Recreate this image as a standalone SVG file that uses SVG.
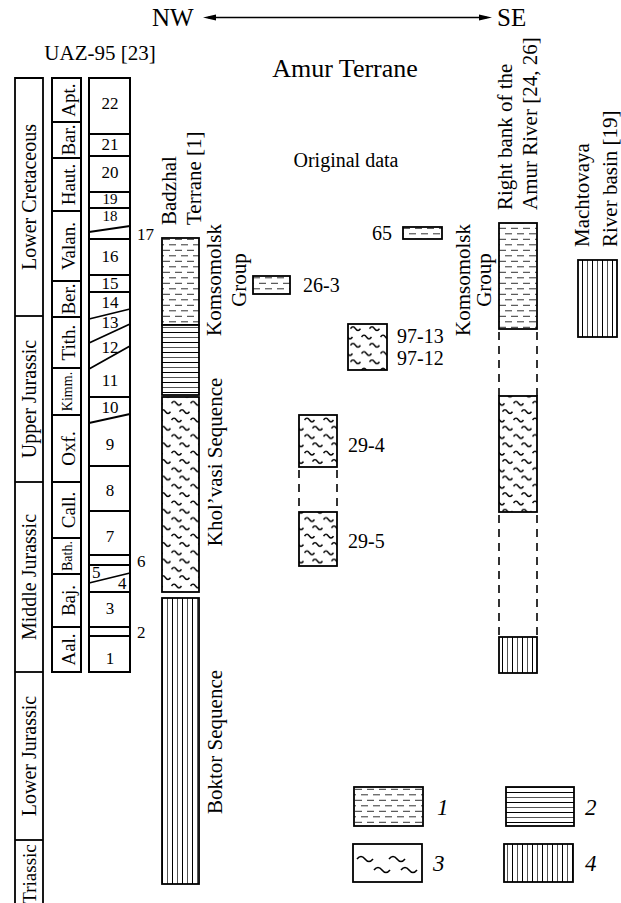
<svg xmlns="http://www.w3.org/2000/svg" width="621" height="903" viewBox="0 0 621 903">
<style>
text{font-family:"Liberation Serif","Times New Roman",serif;fill:#000}
.t21{font-size:21px}
.t20{font-size:20px}
.t19{font-size:19px}
.t14{font-size:14px}
.n{font-size:17px;text-anchor:middle}
.ns{font-size:15px;text-anchor:middle}
.n2{font-size:17px}
.box{fill:none;stroke:#000;stroke-width:2}
.bx{stroke:#000;stroke-width:1.8}
.ln{stroke:#000;stroke-width:1.8;fill:none}
.dash{stroke:#000;stroke-width:1.6;stroke-dasharray:8,6;fill:none}
.leg{font-size:23px;font-style:italic}
.wv{fill:none;stroke:#000;stroke-width:1.6}
</style>
<defs>
<pattern id="p1" patternUnits="userSpaceOnUse" width="12" height="11">
<rect width="12" height="11" fill="#fff"/>
<line x1="1" y1="2.8" x2="8" y2="2.8" stroke="#333" stroke-width="1"/>
<line x1="7" y1="8.3" x2="12" y2="8.3" stroke="#333" stroke-width="1"/>
<line x1="0" y1="8.3" x2="2" y2="8.3" stroke="#333" stroke-width="1"/>
</pattern>
<pattern id="p2" patternUnits="userSpaceOnUse" width="10" height="10">
<rect width="10" height="10" fill="#fff"/>
<line x1="0" y1="2.5" x2="10" y2="2.5" stroke="#000" stroke-width="1"/>
<line x1="0" y1="7.5" x2="10" y2="7.5" stroke="#555" stroke-width="1"/>
</pattern>
<pattern id="p3" patternUnits="userSpaceOnUse" width="19" height="16.6">
<rect width="19" height="16.6" fill="#fff"/>
<path d="M0.5,5 q2.5,-3.6 5,0 t5,0" fill="none" stroke="#000" stroke-width="1.6"/>
<path d="M8.5,13.3 q2.5,-3.6 5,0 t5,0" fill="none" stroke="#000" stroke-width="1.6"/>
</pattern>
<pattern id="p4" patternUnits="userSpaceOnUse" width="10" height="10">
<rect width="10" height="10" fill="#fff"/>
<line x1="2.5" y1="0" x2="2.5" y2="10" stroke="#000" stroke-width="1"/>
<line x1="7.5" y1="0" x2="7.5" y2="10" stroke="#555" stroke-width="1"/>
</pattern>
</defs>
<rect width="621" height="903" fill="#fff"/>

<g id="header">
<text x="152" y="26" style="font-size:25px">NW</text>
<text x="497" y="26" style="font-size:25px">SE</text>
<text x="345" y="77" text-anchor="middle" style="font-size:26px">Amur Terrane</text>
<text x="100" y="60" text-anchor="middle" class="t21">UAZ-95 [23]</text>
<text x="346" y="167" text-anchor="middle" class="t20">Original data</text>
</g>

<g id="connectors">
<line x1="208" y1="17.5" x2="487" y2="17.5" stroke="#000" stroke-width="1.6"/>
<polygon points="203,17.5 216,14.5 216,20.5" fill="#000"/>
<polygon points="492,17.5 479,14.5 479,20.5" fill="#000"/>
</g>

<g id="col-systems">
<path class="ln" d="M15,920 V78 H43 V920"/>
<line class="ln" x1="15" y1="316" x2="43" y2="316"/>
<line class="ln" x1="15" y1="482" x2="43" y2="482"/>
<line class="ln" x1="15" y1="672" x2="43" y2="672"/>
<line class="ln" x1="15" y1="840" x2="43" y2="840"/>
<text class="t20" text-anchor="middle" transform="translate(36,197) rotate(-90)">Lower Cretaceous</text>
<text class="t20" text-anchor="middle" transform="translate(36,399) rotate(-90)">Upper Jurassic</text>
<text class="t20" text-anchor="middle" transform="translate(36,577) rotate(-90)">Middle Jurassic</text>
<text class="t20" text-anchor="middle" transform="translate(36,756) rotate(-90)">Lower Jurassic</text>
<text class="t19" text-anchor="middle" transform="translate(36,874) rotate(-90)">Triassic</text>
</g>

<g id="col-stages">
<rect class="box" x="52" y="78" width="29" height="594"/>
<path class="ln" d="M52,122H81M52,158H81M52,211H81M52,281H81M52,317H81M52,368H81M52,415H81M52,482H81M52,538H81M52,574H81M52,627H81"/>
<text class="t19" text-anchor="middle" transform="translate(75,100) rotate(-90)">Apt.</text>
<text class="t19" text-anchor="middle" transform="translate(75,140) rotate(-90)">Bar.</text>
<text class="t19" text-anchor="middle" transform="translate(75,184.5) rotate(-90)">Haut.</text>
<text class="t19" text-anchor="middle" transform="translate(75,246) rotate(-90)">Valan.</text>
<text class="t19" text-anchor="middle" transform="translate(75,299) rotate(-90)">Ber.</text>
<text class="t19" text-anchor="middle" transform="translate(75,342.5) rotate(-90)">Tith.</text>
<text class="t14" text-anchor="middle" transform="translate(72,391.5) rotate(-90)">Kimm.</text>
<text class="t19" text-anchor="middle" transform="translate(75,448.5) rotate(-90)">Oxf.</text>
<text class="t19" text-anchor="middle" transform="translate(75,510) rotate(-90)">Call.</text>
<text class="t14" text-anchor="middle" transform="translate(72,556) rotate(-90)">Bath.</text>
<text class="t19" text-anchor="middle" transform="translate(75,600.5) rotate(-90)">Baj.</text>
<text class="t19" text-anchor="middle" transform="translate(75,649.5) rotate(-90)">Aal.</text>
</g>

<g id="col-zones">
<rect class="box" x="89" y="78" width="41" height="594"/>
<path class="ln" d="M89,134H130M89,156H130M89,192H130M89,208H130M89,232L130,226M89,239H130M89,275H130M89,292H130M89,319L130,309M89,343L130,324M89,369L130,346M89,397H130M89,423L130,414M89,466H130M89,511H130M89,555H130M89,565H130M89,583L130,573M89,592H130M89,627H130M89,636H130"/>
<text class="n" x="110" y="109">22</text>
<text class="n" x="110" y="150">21</text>
<text class="n" x="110" y="178">20</text>
<text class="ns" x="110" y="204">19</text>
<text class="ns" x="110" y="221">18</text>
<text class="n2" x="137" y="240">17</text>
<text class="n" x="110" y="262">16</text>
<text class="n" x="110" y="289">15</text>
<text class="n" x="110" y="308">14</text>
<text class="n" x="110" y="328">13</text>
<text class="n" x="110" y="353">12</text>
<text class="n" x="110" y="386">11</text>
<text class="n" x="110" y="413">10</text>
<text class="n" x="110" y="450">9</text>
<text class="n" x="110" y="496">8</text>
<text class="n" x="110" y="542">7</text>
<text class="n2" x="137" y="567">6</text>
<text class="n2" x="92" y="578">5</text>
<text class="n2" x="118" y="589">4</text>
<text class="n" x="110" y="614">3</text>
<text class="n2" x="137" y="638">2</text>
<text class="n" x="110" y="664">1</text>
</g>

<g id="badzhal">
<rect class="bx" x="162" y="238" width="37" height="87" fill="url(#p1)"/>
<rect class="bx" x="162" y="325" width="37" height="70" fill="url(#p2)"/>
<rect class="bx" x="162" y="397" width="37" height="195" fill="url(#p3)"/>
<rect class="bx" x="162" y="598" width="37" height="286" fill="url(#p4)"/>
<text class="t21" transform="translate(176,225) rotate(-90)">Badzhal</text>
<text class="t21" transform="translate(201,225) rotate(-90)">Terrane [1]</text>
<text class="t21" text-anchor="middle" transform="translate(221,280) rotate(-90)">Komsomolsk</text>
<text class="t21" text-anchor="middle" transform="translate(246,280) rotate(-90)">Group</text>
<text class="t21" text-anchor="middle" transform="translate(222,462) rotate(-90)">Khol’vasi Sequence</text>
<text class="t21" text-anchor="middle" transform="translate(222,742) rotate(-90)">Boktor Sequence</text>
</g>

<g id="sample-26-3">
<rect class="bx" x="253" y="276" width="37" height="18" fill="url(#p1)"/>
<text class="t20" x="303" y="292">26-3</text>
</g>

<g id="sample-65">
<rect class="bx" x="403" y="227" width="39" height="12" fill="url(#p1)"/>
<text class="t20" x="372" y="240">65</text>
</g>

<g id="sample-97">
<rect class="bx" x="348" y="324" width="39" height="46" fill="url(#p3)"/>
<text class="t20" x="397" y="343">97-13</text>
<text class="t20" x="397" y="365">97-12</text>
</g>

<g id="sample-29">
<rect class="bx" x="299" y="415" width="38" height="52" fill="url(#p3)"/>
<line class="dash" x1="299" y1="470" x2="299" y2="512"/>
<line class="dash" x1="337" y1="470" x2="337" y2="512"/>
<rect class="bx" x="299" y="512" width="38" height="54" fill="url(#p3)"/>
<text class="t20" x="348" y="452">29-4</text>
<text class="t20" x="348" y="548">29-5</text>
</g>

<g id="komsomolsk-2">
<text class="t21" text-anchor="middle" transform="translate(470,280) rotate(-90)">Komsomolsk</text>
<text class="t21" text-anchor="middle" transform="translate(491,280) rotate(-90)">Group</text>
</g>

<g id="right-bank">
<rect class="bx" x="499" y="223" width="38" height="106" fill="url(#p1)"/>
<line class="dash" x1="499" y1="332" x2="499" y2="396"/>
<line class="dash" x1="537" y1="332" x2="537" y2="396"/>
<rect class="bx" x="499" y="396" width="38" height="116" fill="url(#p3)"/>
<line class="dash" x1="499" y1="515" x2="499" y2="637"/>
<line class="dash" x1="537" y1="515" x2="537" y2="637"/>
<rect class="bx" x="499" y="637" width="38" height="36" fill="url(#p4)"/>
<text class="t21" transform="translate(512,210) rotate(-90)">Right bank of the</text>
<text class="t21" transform="translate(537,210) rotate(-90)">Amur River [24, 26]</text>
</g>

<g id="machtovaya">
<rect class="bx" x="578" y="260" width="39" height="77" fill="url(#p4)"/>
<text class="t21" transform="translate(589,247) rotate(-90)">Machtovaya</text>
<text class="t21" transform="translate(617,247) rotate(-90)">River basin [19]</text>
</g>

<g id="legend">
<rect class="bx" x="354" y="787" width="69" height="39" fill="url(#p1)"/>
<text class="leg" x="437" y="815">1</text>
<rect class="bx" x="506" y="787" width="68" height="39" fill="url(#p2)"/>
<text class="leg" x="585" y="815">2</text>
<rect class="bx" x="353" y="844" width="69" height="38" fill="#fff"/>
<path class="wv" d="M357,859 q4,-5 8,0 t8,0 M389,859 q4,-5 8,0 t8,0 M374,870 q4,-5 8,0 t8,0 M401,870 q4,-5 8,0 t8,0"/>
<text class="leg" x="433" y="871">3</text>
<rect class="bx" x="504" y="844" width="69" height="38" fill="url(#p4)"/>
<text class="leg" x="585" y="871">4</text>
</g>
</svg>
